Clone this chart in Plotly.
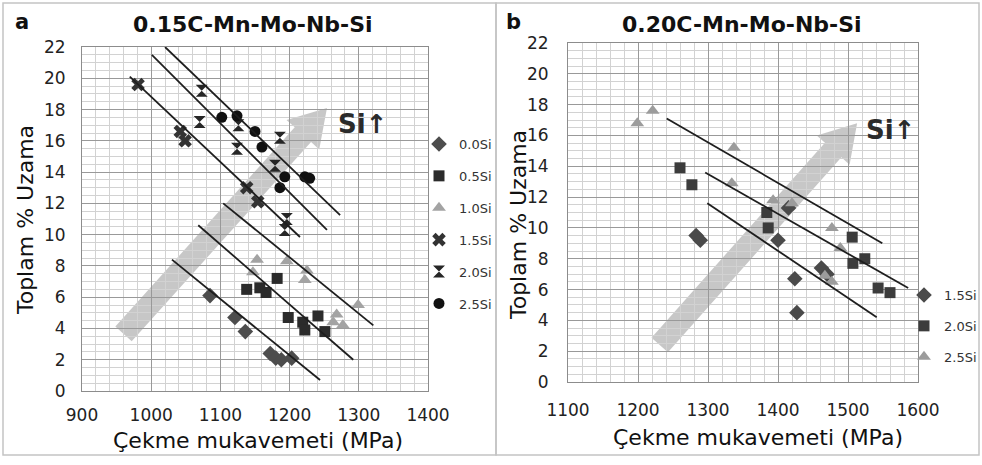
import math
import plotly.graph_objects as go

W, H = 982, 465

# ---------------- data: panel a (0.15C-Mn-Mo-Nb-Si) ----------------
a_00_x = [1085, 1121, 1136, 1172, 1180, 1188, 1203]
a_00_y = [6.1, 4.7, 3.8, 2.4, 2.1, 2.0, 2.1]
a_05_x = [1138, 1157, 1166, 1182, 1198, 1219, 1222, 1241, 1251]
a_05_y = [6.5, 6.6, 6.3, 7.2, 4.7, 4.4, 3.9, 4.8, 3.8]
a_10_x = [1147, 1153, 1196, 1222, 1225, 1263, 1268, 1277, 1299]
a_10_y = [7.6, 8.4, 8.3, 7.1, 7.7, 4.4, 4.9, 4.2, 5.5]
a_15_x = [981, 1042, 1049, 1138, 1154]
a_15_y = [19.6, 16.6, 16.0, 13.0, 12.1]
a_20_x = [1073, 1070, 1126, 1124, 1186, 1179, 1196, 1193]
a_20_y = [19.2, 17.2, 17.0, 15.5, 16.2, 14.4, 11.0, 10.3]
a_25_x = [1102, 1124, 1150, 1160, 1193, 1186, 1222, 1229]
a_25_y = [17.5, 17.6, 16.6, 15.6, 13.7, 13.0, 13.7, 13.6]

# guide lines, panel a (start / end points)
a_lines_x = [[1030, 1244], [1068, 1292], [1104, 1321], [969, 1215], [1001, 1254], [1020, 1273]]
a_lines_y = [[8.4, 0.7], [10.6, 2.0], [12.0, 4.2], [20.1, 9.85], [21.5, 10.3], [22.0, 11.25]]

# ---------------- data: panel b (0.20C-Mn-Mo-Nb-Si) ----------------
b_15_x = [1283, 1289, 1400, 1415, 1424, 1427, 1462, 1470]
b_15_y = [9.5, 9.2, 9.2, 11.3, 6.7, 4.5, 7.4, 7.0]
b_20_x = [1260, 1277, 1384, 1386, 1506, 1507, 1524, 1543, 1560]
b_20_y = [13.9, 12.8, 11.0, 10.0, 9.4, 7.7, 8.0, 6.1, 5.8]
b_25_x = [1199, 1221, 1337, 1334, 1393, 1420, 1477, 1489, 1467, 1477]
b_25_y = [16.8, 17.6, 15.2, 12.9, 11.8, 11.6, 10.0, 8.7, 6.9, 6.5]

b_lines_x = [[1299, 1541], [1296, 1586], [1241, 1549]]
b_lines_y = [[11.6, 4.2], [13.6, 6.1], [17.1, 9.0]]

# "Si increase" arrows (tail -> tip, data units)
a_arrow = [(960, 3.65), (1254, 18.1)]
b_arrow = [(1231, 2.4), (1513, 16.8)]

a_xrange, a_yrange = [900, 1400], [0, 22]
b_xrange, b_yrange = [1100, 1600], [0, 22]

# ---------------- layout geometry (pixels) ----------------
A_BOX = (82, 428, 47, 391)   # left, right, top, bottom
B_BOX = (568, 918, 43, 382)


def dom(box):
    l, r, t, b = box
    return [l / W, r / W], [(H - b) / H, (H - t) / H]


def to_px(box, xr, yr, x, y):
    l, r, t, b = box
    px = l + (x - xr[0]) / (xr[1] - xr[0]) * (r - l)
    py = b - (y - yr[0]) / (yr[1] - yr[0]) * (b - t)
    return px, py


def arrow_path(box, xr, yr, tail, tip, w=11, hw=22, hl=36):
    tx, ty = to_px(box, xr, yr, *tail)
    px, py = to_px(box, xr, yr, *tip)
    dx, dy = px - tx, py - ty
    L = math.hypot(dx, dy)
    ux, uy = dx / L, dy / L
    nx, ny = -uy, ux
    neckx, necky = px - ux * hl, py - uy * hl
    pts = [
        (tx + nx * w, ty + ny * w),
        (neckx + nx * w, necky + ny * w),
        (neckx + nx * hw, necky + ny * hw),
        (px, py),
        (neckx - nx * hw, necky - ny * hw),
        (neckx - nx * w, necky - ny * w),
        (tx - nx * w, ty - ny * w),
    ]
    s = "M " + " L ".join(f"{x / W:.5f},{1 - y / H:.5f}" for x, y in pts) + " Z"
    return s


fig = go.Figure()

series_a = [
    ("0.0Si", a_00_x, a_00_y, "diamond", "#4d4d4d", 12),
    ("0.5Si", a_05_x, a_05_y, "square", "#2b2b2b", 11),
    ("1.0Si", a_10_x, a_10_y, "triangle-up", "#a3a3a3", 12),
    ("1.5Si", a_15_x, a_15_y, "x", "#333333", 12),
    ("2.0Si", a_20_x, a_20_y, "hourglass", "#262626", 12),
    ("2.5Si", a_25_x, a_25_y, "circle", "#111111", 11),
]
for i, (name, xs, ys, sym, col, sz) in enumerate(series_a):
    fig.add_trace(go.Scatter(
        x=xs, y=ys, mode="markers", name=name, xaxis="x", yaxis="y",
        marker=dict(symbol=sym, color=col, size=sz, line=dict(width=0)),
        legend="legend", legendgroup=f"a{i}",
    ))
for xs, ys in zip(a_lines_x, a_lines_y):
    fig.add_trace(go.Scatter(x=xs, y=ys, mode="lines", xaxis="x", yaxis="y",
                             line=dict(color="#1e1e1e", width=1.8), showlegend=False,
                             hoverinfo="skip"))

series_b = [
    ("1.5Si", b_15_x, b_15_y, "diamond", "#4a4a4a", 12),
    ("2.0Si", b_20_x, b_20_y, "square", "#3c3c3c", 11),
    ("2.5Si", b_25_x, b_25_y, "triangle-up", "#9c9c9c", 12),
]
for i, (name, xs, ys, sym, col, sz) in enumerate(series_b):
    fig.add_trace(go.Scatter(
        x=xs, y=ys, mode="markers", name=name, xaxis="x2", yaxis="y2",
        marker=dict(symbol=sym, color=col, size=sz, line=dict(width=0)),
        legend="legend2", legendgroup=f"b{i}",
    ))
for xs, ys in zip(b_lines_x, b_lines_y):
    fig.add_trace(go.Scatter(x=xs, y=ys, mode="lines", xaxis="x2", yaxis="y2",
                             line=dict(color="#1e1e1e", width=1.8), showlegend=False,
                             hoverinfo="skip"))

tick_font = dict(family="DejaVu Sans", size=17, color="#222222")


def xaxis_cfg(domain, rng, anchor, standoff):
    return dict(domain=domain, range=rng, anchor=anchor, dtick=100, tick0=rng[0],
                showgrid=True, gridcolor="#999999", gridwidth=1,
                minor=dict(dtick=20, showgrid=True, gridcolor="#d2d2d2", gridwidth=1),
                showline=True, linecolor="#8c8c8c", linewidth=1, mirror=True,
                zeroline=False, ticks="", tickfont=tick_font, ticklabelstandoff=standoff,
                fixedrange=True)


def yaxis_cfg(domain, rng, anchor, standoff):
    return dict(domain=domain, range=rng, anchor=anchor, dtick=2, tick0=0,
                showgrid=True, gridcolor="#999999", gridwidth=1,
                minor=dict(dtick=0.5, showgrid=True, gridcolor="#d2d2d2", gridwidth=1),
                showline=True, linecolor="#8c8c8c", linewidth=1, mirror=True,
                zeroline=False, ticks="", tickfont=tick_font, ticklabelstandoff=standoff,
                fixedrange=True)


ax_dom, ay_dom = dom(A_BOX)
bx_dom, by_dom = dom(B_BOX)

title_font = dict(family="DejaVu Sans", size=22, color="#111111")
axis_title_font = dict(family="DejaVu Sans", size=22, color="#111111")
si_font = dict(family="DejaVu Sans", size=26, color="#2a2a2a")
ann = [
    dict(text="<b>a</b>", x=22 / W, y=1 - 22 / H, font=dict(family="DejaVu Sans", size=21, color="#111")),
    dict(text="<b>b</b>", x=513 / W, y=1 - 22 / H, font=dict(family="DejaVu Sans", size=21, color="#111")),
    dict(text="<b>0.15C-Mn-Mo-Nb-Si</b>", x=253 / W, y=1 - 25 / H, font=title_font),
    dict(text="<b>0.20C-Mn-Mo-Nb-Si</b>", x=742 / W, y=1 - 25 / H, font=title_font),
    dict(text="Toplam % Uzama", x=25 / W, y=1 - 220 / H, textangle=-90, font=axis_title_font),
    dict(text="Toplam % Uzama", x=518 / W, y=1 - 225 / H, textangle=-90, font=axis_title_font),
    dict(text="Çekme mukavemeti (MPa)", x=258 / W, y=1 - 440 / H, font=axis_title_font),
    dict(text="Çekme mukavemeti (MPa)", x=758 / W, y=1 - 437 / H, font=axis_title_font),
    dict(text="<b>Si↑</b>", x=336 / W, y=1 - 124 / H, xanchor="left", font=si_font),
    dict(text="<b>Si↑</b>", x=864 / W, y=1 - 130 / H, xanchor="left", font=si_font),
]
for a in ann:
    a.setdefault("xanchor", "center")
    a.update(xref="paper", yref="paper", yanchor="middle", showarrow=False)

shapes = [
    dict(type="path", xref="paper", yref="paper", layer="between",
         path=arrow_path(A_BOX, a_xrange, a_yrange, *a_arrow),
         fillcolor="#a4a4a4", opacity=0.62, line=dict(width=0)),
    dict(type="path", xref="paper", yref="paper", layer="between",
         path=arrow_path(B_BOX, b_xrange, b_yrange, *b_arrow),
         fillcolor="#a4a4a4", opacity=0.62, line=dict(width=0)),
    dict(type="rect", xref="paper", yref="paper", layer="below",
         x0=3 / W, x1=496 / W, y0=1 - 455 / H, y1=1 - 3 / H,
         line=dict(color="#c4c4c4", width=1.5)),
    dict(type="rect", xref="paper", yref="paper", layer="below",
         x0=496 / W, x1=979 / W, y0=1 - 455 / H, y1=1 - 3 / H,
         line=dict(color="#c4c4c4", width=1.5)),
]

legend_font = dict(family="DejaVu Sans", size=13, color="#333333")

fig.update_layout(
    width=W, height=H,
    margin=dict(l=0, r=0, t=0, b=0, autoexpand=False),
    paper_bgcolor="white", plot_bgcolor="white",
    xaxis=xaxis_cfg(ax_dom, a_xrange, "y", 9),
    yaxis=yaxis_cfg(ay_dom, a_yrange, "x", 12),
    xaxis2=xaxis_cfg(bx_dom, b_xrange, "y2", 13),
    yaxis2=yaxis_cfg(by_dom, b_yrange, "x2", 15),
    annotations=ann,
    shapes=shapes,
    showlegend=True,
    legend=dict(x=419 / W, y=1 - 129 / H, xanchor="left", yanchor="top",
                font=legend_font, bgcolor="rgba(0,0,0,0)", itemwidth=30,
                traceorder="grouped", tracegroupgap=12, borderwidth=0),
    legend2=dict(x=904 / W, y=1 - 280 / H, xanchor="left", yanchor="top",
                 font=legend_font, bgcolor="rgba(0,0,0,0)", itemwidth=30,
                 traceorder="grouped", tracegroupgap=11, borderwidth=0),
)

fig.write_html("out.html")
